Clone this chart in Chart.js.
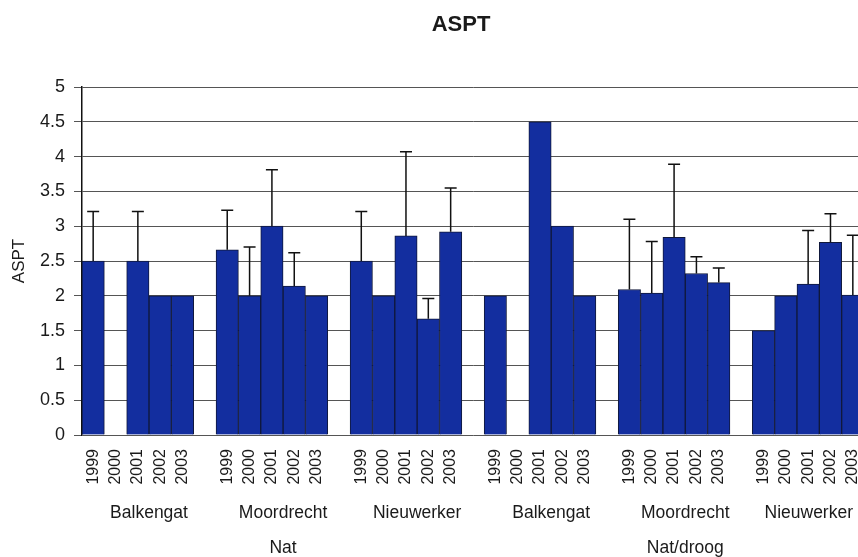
<!DOCTYPE html>
<html>
<head>
<meta charset="utf-8">
<title>ASPT</title>
<script src="https://cdn.jsdelivr.net/npm/chart.js@4.4.1/dist/chart.umd.min.js"></script>
<style>
  html, body { margin: 0; padding: 0; background: #ffffff; }
  #wrap { width: 858px; height: 557px; overflow: hidden; position: relative; }
  #c { display: block; }
</style>
</head>
<body>
<div id="wrap"><canvas id="c" width="866" height="557"></canvas></div>
<script>
// Sampling years per site
const years = ['1999', '2000', '2001', '2002', '2003'];
// Sites within each regime
const sites = ['Balkengat', 'Moordrecht', 'Nieuwerker'];
// Hydrological regimes
const regimes = ['Nat', 'Nat/droog'];

// Mean ASPT per site (1999..2003), null = not sampled
const natBalkengat      = [2.5, null, 2.5, 2.0, 2.0];
const natMoordrecht     = [2.66, 2.0, 3.0, 2.14, 2.0];
const natNieuwerker     = [2.5, 2.0, 2.86, 1.67, 2.92];
const drgBalkengat      = [2.0, null, 4.5, 3.0, 2.0];
const drgMoordrecht     = [2.09, 2.04, 2.84, 2.32, 2.19];
const drgNieuwerker     = [1.5, 2.0, 2.17, 2.77, 2.01];

// Upper standard deviation per site, null = no error bar
const natBalkengatErr   = [0.71, null, 0.71, null, null];
const natMoordrechtErr  = [0.57, 0.70, 0.81, 0.48, null];
const natNieuwerkerErr  = [0.71, null, 1.21, 0.29, 0.63];
const drgBalkengatErr   = [null, null, null, null, null];
const drgMoordrechtErr  = [1.01, 0.74, 1.05, 0.24, 0.21];
const drgNieuwerkerErr  = [null, null, 0.77, 0.41, 0.86];

// Y axis tick labels
const yTicks = [0, 0.5, 1, 1.5, 2, 2.5, 3, 3.5, 4, 4.5, 5];

const groupValues = [natBalkengat, natMoordrecht, natNieuwerker, drgBalkengat, drgMoordrecht, drgNieuwerker];
const groupErrors = [natBalkengatErr, natMoordrechtErr, natNieuwerkerErr, drgBalkengatErr, drgMoordrechtErr, drgNieuwerkerErr];

// Each site group gets its five years plus one empty spacer slot
const SLOTS_PER_GROUP = years.length + 1;
const labels = [];
const values = [];
const errors = [];
groupValues.forEach((vals, g) => {
  years.forEach((y, i) => {
    labels.push(y);
    values.push(vals[i]);
    errors.push(groupErrors[g][i]);
  });
  if (g < groupValues.length - 1) {
    labels.push('');
    values.push(null);
    errors.push(null);
  }
});

const VIEW_W = 858;
const FONT = "'Liberation Sans', Arial, sans-serif";
const TEXT = '#1a1a1a';

// Upper-only error bars with a small cap
const errorBars = {
  id: 'errorBars',
  afterDatasetsDraw(chart) {
    const meta = chart.getDatasetMeta(0);
    const ys = chart.scales.y;
    const ctx = chart.ctx;
    ctx.save();
    ctx.strokeStyle = '#111111';
    ctx.lineWidth = 1.5;
    errors.forEach((e, i) => {
      if (e == null || values[i] == null) return;
      const x = meta.data[i].x;
      const yb = ys.getPixelForValue(values[i]);
      const yt = ys.getPixelForValue(values[i] + e);
      ctx.beginPath();
      ctx.moveTo(x, yb);
      ctx.lineTo(x, yt);
      ctx.moveTo(x - 6, yt);
      ctx.lineTo(x + 6, yt);
      ctx.stroke();
    });
    ctx.restore();
  }
};

// Title, site names and regime names under the year labels
const groupLabels = {
  id: 'groupLabels',
  afterDraw(chart) {
    const ctx = chart.ctx;
    const xs = chart.scales.x;
    const area = chart.chartArea;
    ctx.save();
    ctx.fillStyle = TEXT;
    ctx.textAlign = 'center';
    ctx.textBaseline = 'middle';

    ctx.font = 'bold 22px ' + FONT;
    ctx.fillText('ASPT', 461, 25);

    ctx.font = '17.5px ' + FONT;
    const siteCount = regimes.length * sites.length;
    for (let g = 0; g < siteCount; g++) {
      const name = sites[g % sites.length];
      const a = xs.getPixelForValue(g * SLOTS_PER_GROUP);
      const b = xs.getPixelForValue(g * SLOTS_PER_GROUP + SLOTS_PER_GROUP - 1);
      let cx = (a + b) / 2;
      const w = ctx.measureText(name).width;
      cx = Math.min(cx, VIEW_W - w / 2 - 5);
      ctx.fillText(name, cx, area.bottom + 78);
    }
    const span = sites.length * SLOTS_PER_GROUP;
    regimes.forEach((r, k) => {
      const a = xs.getPixelForValue(k * span);
      const b = xs.getPixelForValue(Math.min(k * span + span - 1, labels.length));
      let cx = (a + b) / 2;
      const w = ctx.measureText(r).width;
      cx = Math.min(cx, VIEW_W - w / 2 - 5);
      ctx.fillText(r, cx, area.bottom + 113);
    });
    ctx.restore();
  }
};

new Chart(document.getElementById('c'), {
  type: 'bar',
  data: {
    labels: labels,
    datasets: [{
      label: 'ASPT',
      data: values,
      backgroundColor: '#132e9f',
      borderColor: '#10183a',
      borderWidth: 1,
      barPercentage: 1.0,
      categoryPercentage: 1.0
    }]
  },
  options: {
    responsive: false,
    animation: false,
    layout: { padding: { top: 87, left: 0, right: 2, bottom: 0 } },
    plugins: {
      legend: { display: false },
      title: { display: false },
      tooltip: { enabled: false }
    },
    scales: {
      x: {
        type: 'category',
        offset: true,
        grid: { display: false, drawTicks: false },
        border: { display: false },
        ticks: {
          autoSkip: false,
          maxRotation: 90,
          minRotation: 90,
          padding: 14,
          color: TEXT,
          font: { family: FONT, size: 16 }
        },
        afterFit(scale) {
          scale.height = 122;
          scale.paddingLeft = 0;
          scale.paddingRight = 0;
        }
      },
      y: {
        min: yTicks[0],
        max: yTicks[yTicks.length - 1],
        afterBuildTicks(scale) {
          scale.ticks = yTicks.map(v => ({ value: v }));
        },
        ticks: {
          padding: 9,
          color: TEXT,
          font: { family: FONT, size: 18 },
          callback: (v) => String(v)
        },
        grid: {
          color: '#555555',
          lineWidth: 1,
          tickLength: 8,
          tickColor: '#555555'
        },
        border: { display: true, color: '#111111', width: 1.5 },
        title: {
          display: true,
          text: 'ASPT',
          color: TEXT,
          font: { family: FONT, size: 17 },
          padding: { top: 9, bottom: 0 }
        },
        afterFit(scale) { scale.width = 82; }
      }
    }
  },
  plugins: [errorBars, groupLabels]
});
</script>
</body>
</html>
